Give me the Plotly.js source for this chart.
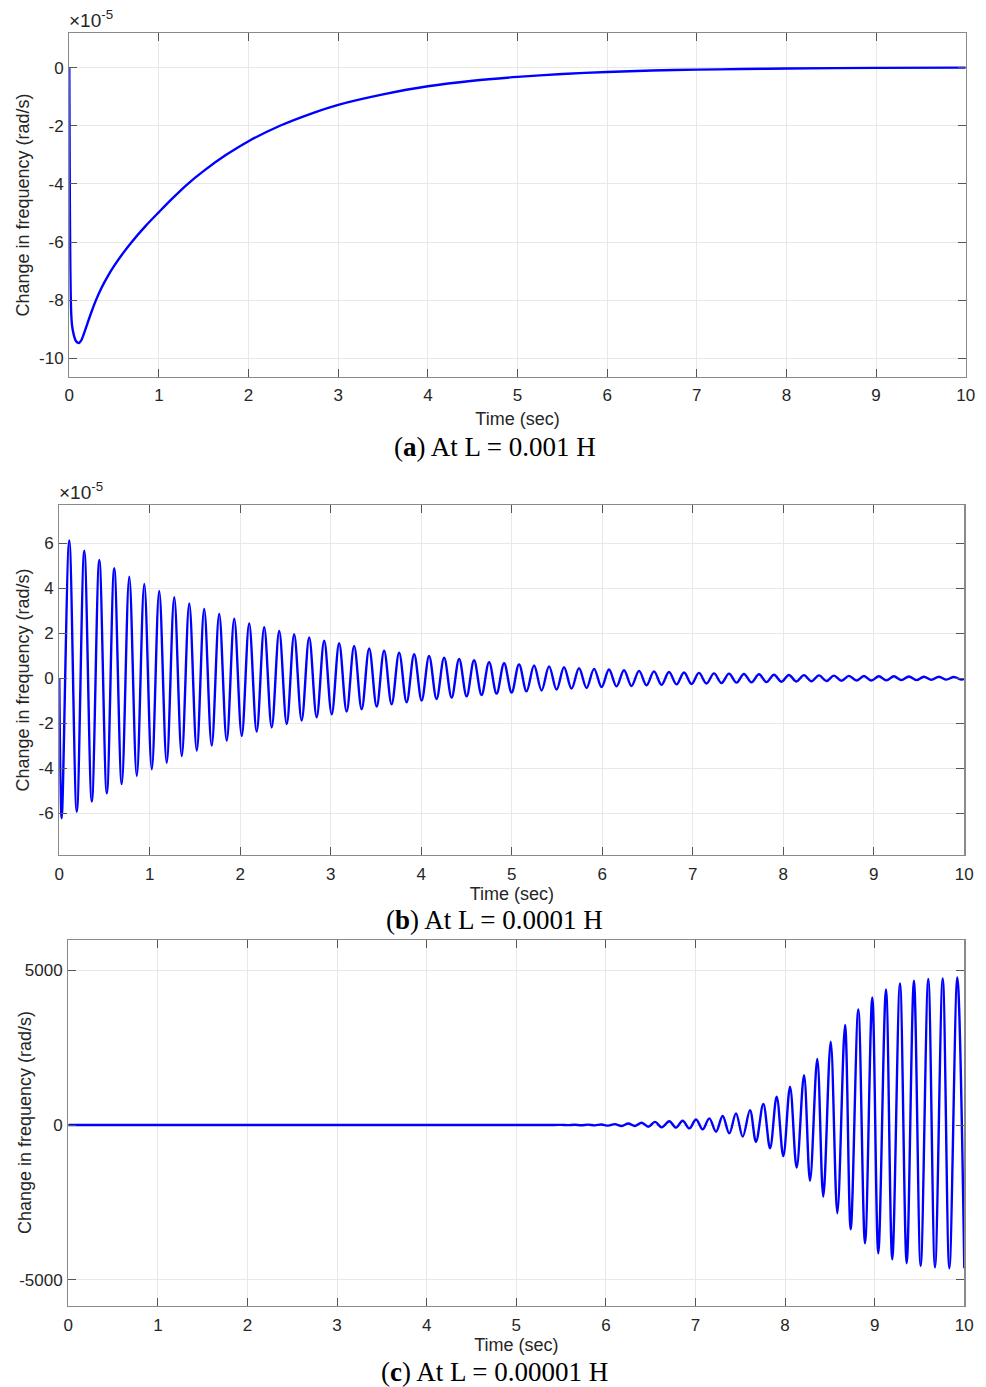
<!DOCTYPE html>
<html>
<head>
<meta charset="utf-8">
<script src="https://cdn.plot.ly/plotly-3.0.1.min.js"></script>
<style>
  html, body { margin: 0; padding: 0; background: #ffffff; }
  #chart { width: 986px; height: 1387px; }
</style>
</head>
<body>
<div id="chart"></div>
<script>
// ---------------- Data ----------------
// Panel (a): L = 0.001 H, values in units of 1e-5 rad/s
const aTime = [0, 0.003, 0.006, 0.01, 0.015, 0.022, 0.03, 0.04, 0.055, 0.07, 0.09, 0.108,
  0.13, 0.16, 0.2, 0.25, 0.3, 0.36, 0.43, 0.5, 0.6, 0.69, 0.85, 1.0, 1.15, 1.31, 1.5, 1.75,
  2.0, 2.35, 2.7, 3.0, 3.5, 4.0, 4.5, 5.0, 5.5, 6.0, 6.5, 7.0, 7.5, 8.0, 9.0, 10.0];
const aFreq = [0, -2.5, -4.6, -6.4, -7.7, -8.5, -8.85, -9.05, -9.25, -9.38, -9.45, -9.47,
  -9.40, -9.18, -8.82, -8.38, -7.98, -7.57, -7.17, -6.82, -6.38, -6.02, -5.45, -4.97, -4.5, -4.03, -3.55, -3.0,
  -2.53, -2.0, -1.58, -1.28, -0.92, -0.64, -0.45, -0.32, -0.22, -0.15, -0.1, -0.07, -0.05, -0.03, -0.01, 0];

// Panel (b): L = 0.0001 H, values in units of 1e-5 rad/s (successive troughs and peaks)
const bTime = [0, 0.026, 0.110, 0.193, 0.276, 0.359, 0.442, 0.525, 0.607, 0.690, 0.773,
  0.856, 0.939, 1.022, 1.104, 1.187, 1.270, 1.353, 1.436, 1.519, 1.601, 1.684, 1.767,
  1.850, 1.933, 2.016, 2.098, 2.181, 2.264, 2.347, 2.430, 2.513, 2.595, 2.678, 2.761,
  2.844, 2.927, 3.010, 3.092, 3.175, 3.258, 3.341, 3.424, 3.507, 3.589, 3.672, 3.755,
  3.838, 3.921, 4.004, 4.086, 4.169, 4.252, 4.335, 4.418, 4.501, 4.583, 4.666, 4.749,
  4.832, 4.915, 4.998, 5.080, 5.163, 5.246, 5.329, 5.412, 5.495, 5.577, 5.660, 5.743,
  5.826, 5.909, 5.992, 6.074, 6.157, 6.240, 6.323, 6.406, 6.489, 6.571, 6.654, 6.737,
  6.820, 6.903, 6.986, 7.068, 7.151, 7.234, 7.317, 7.400, 7.483, 7.565, 7.648, 7.731,
  7.814, 7.897, 7.980, 8.062, 8.145, 8.228, 8.311, 8.394, 8.477, 8.559, 8.642, 8.725,
  8.808, 8.891, 8.974, 9.056, 9.139, 9.222, 9.305, 9.388, 9.471, 9.553, 9.636, 9.719,
  9.802, 9.885, 9.968, 10.0];
const bFreq = [0, -6.22, 6.12, -5.93, 5.67, -5.48, 5.26, -5.11, 4.89, -4.70, 4.52,
  -4.34, 4.19, -4.04, 3.88, -3.75, 3.60, -3.45, 3.33, -3.21, 3.08, -2.99, 2.86,
  -2.77, 2.65, -2.56, 2.44, -2.37, 2.27, -2.18, 2.10, -2.03, 1.96, -1.88, 1.81,
  -1.73, 1.67, -1.60, 1.56, -1.48, 1.44, -1.38, 1.33, -1.26, 1.23, -1.16, 1.14,
  -1.07, 1.07, -0.99, 0.99, -0.92, 0.92, -0.86, 0.86, -0.80, 0.80, -0.74, 0.72,
  -0.68, 0.67, -0.63, 0.62, -0.58, 0.57, -0.54, 0.53, -0.50, 0.49, -0.46, 0.45,
  -0.43, 0.42, -0.39, 0.39, -0.36, 0.36, -0.34, 0.33, -0.31, 0.31, -0.29, 0.28,
  -0.27, 0.26, -0.25, 0.24, -0.23, 0.22, -0.21, 0.21, -0.19, 0.19, -0.18, 0.18,
  -0.17, 0.16, -0.15, 0.15, -0.14, 0.14, -0.13, 0.13, -0.12, 0.12, -0.11, 0.11,
  -0.10, 0.10, -0.10, 0.09, -0.09, 0.09, -0.08, 0.08, -0.08, 0.07, -0.07, 0.07,
  -0.06, 0.06, -0.06, -0.03];

// Panel (c): L = 0.00001 H, values in rad/s (successive peaks and troughs)
const cTime = [0, 5.42, 5.50, 5.575, 5.65, 5.725, 5.80, 5.875, 5.95, 6.025, 6.10, 6.176,
  6.25, 6.325, 6.40, 6.473, 6.548, 6.623, 6.708, 6.782, 6.857, 6.931, 7.006, 7.080,
  7.154, 7.229, 7.303, 7.377, 7.452, 7.527, 7.608, 7.675, 7.757, 7.832, 7.906, 7.980,
  8.055, 8.129, 8.211, 8.278, 8.359, 8.426, 8.509, 8.583, 8.669, 8.732, 8.817, 8.892,
  8.973, 9.040, 9.126, 9.196, 9.282, 9.357, 9.438, 9.513, 9.598, 9.673, 9.759, 9.833,
  9.922, 10.0];
const cFreq = [0, 0, 5, -5, 8, -8, 12, -12, 17, -20, 28, -30,
  50, -30, 75, -55, 100, -75, 120, -85, 140, -110, 180, -140,
  215, -215, 290, -270, 375, -375, 480, -540, 680, -750, 915, -1000,
  1240, -1375, 1610, -1795, 2130, -2310, 2690, -2850, 3225, -3365, 3730, -3815,
  4120, -4140, 4375, -4335, 4570, -4460, 4655, -4550, 4710, -4590, 4730, -4625,
  4760, -4620];

// Tick labels
const xTicks = [0, 1, 2, 3, 4, 5, 6, 7, 8, 9, 10];
const xTickText = ['0', '1', '2', '3', '4', '5', '6', '7', '8', '9', '10'];
const aYTicks = [-10, -8, -6, -4, -2, 0];
const aYTickText = ['-10', '-8', '-6', '-4', '-2', '0'];
const bYTicks = [-6, -4, -2, 0, 2, 4, 6];
const bYTickText = ['-6', '-4', '-2', '0', '2', '4', '6'];
const cYTicks = [-5000, 0, 5000];
const cYTickText = ['-5000', '0', '5000'];

const xTitle = 'Time (sec)';
const yTitle = 'Change in frequency (rad/s)';
const captions = ['(<b>a</b>) At L = 0.001 H', '(<b>b</b>) At L = 0.0001 H', '(<b>c</b>) At L = 0.00001 H'];

// ---------------- Styling / layout ----------------
const W = 986, H = 1387;
const px = v => v / W;
const py = v => 1 - v / H;

const lineStyle = { color: '#0000ff', width: 2.4 };
const fam = 'Liberation Sans, Arial, sans-serif';
const tickFont = { family: fam, size: 17, color: '#262626' };
const titleFont = { family: fam, size: 18, color: '#262626' };

function xAxis(left, right, anchor, titleStandoff) {
  return {
    domain: [px(left), px(right)], anchor: anchor, range: [0, 10],
    tickmode: 'array', tickvals: xTicks, ticktext: xTickText,
    ticks: 'inside', ticklen: 8, tickwidth: 1, tickcolor: '#555',
    showline: true, linecolor: '#8a8a8a', linewidth: 1.2, mirror: 'ticks',
    showgrid: true, gridcolor: '#e8e8e8', gridwidth: 1, zeroline: false,
    tickfont: tickFont, ticklabelstandoff: 3,
    title: { text: xTitle, font: titleFont, standoff: titleStandoff },
    fixedrange: true
  };
}
function yAxis(top, bottom, anchor, range, vals, texts, withTitle) {
  const ax = {
    domain: [py(bottom), py(top)], anchor: anchor, range: range,
    tickmode: 'array', tickvals: vals, ticktext: texts,
    ticks: 'inside', ticklen: 8, tickwidth: 1, tickcolor: '#555',
    showline: true, linecolor: '#8a8a8a', linewidth: 1.2, mirror: 'ticks',
    showgrid: true, gridcolor: '#e8e8e8', gridwidth: 1, zeroline: false,
    tickfont: tickFont, ticklabelstandoff: 1,
    fixedrange: true
  };
  if (withTitle) ax.title = { text: yTitle, font: titleFont, standoff: 4 };
  return ax;
}

const traces = [
  { x: aTime, y: aFreq, type: 'scatter', mode: 'lines', line: Object.assign({ shape: 'spline', smoothing: 0.8 }, lineStyle), xaxis: 'x', yaxis: 'y', hoverinfo: 'skip' },
  { x: bTime, y: bFreq, type: 'scatter', mode: 'lines', line: Object.assign({ shape: 'spline', smoothing: 1 }, lineStyle), xaxis: 'x2', yaxis: 'y2', hoverinfo: 'skip' },
  { x: cTime, y: cFreq, type: 'scatter', mode: 'lines', line: Object.assign({ shape: 'spline', smoothing: 1 }, lineStyle), xaxis: 'x3', yaxis: 'y3', hoverinfo: 'skip' }
];

const captionFont = { family: 'Liberation Serif, Times New Roman, serif', size: 27, color: '#000' };
const expFont = { family: fam, size: 19, color: '#262626' };
const annotations = [
  { xref: 'paper', yref: 'paper', x: px(495), y: py(447), text: captions[0], showarrow: false, font: captionFont, xanchor: 'center', yanchor: 'middle' },
  { xref: 'paper', yref: 'paper', x: px(495), y: py(920), text: captions[1], showarrow: false, font: captionFont, xanchor: 'center', yanchor: 'middle' },
  { xref: 'paper', yref: 'paper', x: px(495), y: py(1372), text: captions[2], showarrow: false, font: captionFont, xanchor: 'center', yanchor: 'middle' },
  { xref: 'paper', yref: 'paper', x: px(67), y: py(33), text: '\u00d710<sup>-5</sup>', showarrow: false, font: expFont, xanchor: 'left', yanchor: 'bottom' },
  { xref: 'paper', yref: 'paper', x: px(57), y: py(505), text: '\u00d710<sup>-5</sup>', showarrow: false, font: expFont, xanchor: 'left', yanchor: 'bottom' },
  { xref: 'paper', yref: 'paper', x: px(25), y: py(1123), text: yTitle, textangle: -90, showarrow: false, font: titleFont, xanchor: 'center', yanchor: 'middle' }
];

const layout = {
  width: W, height: H,
  margin: { l: 0, r: 0, t: 0, b: 0 },
  paper_bgcolor: '#ffffff', plot_bgcolor: '#ffffff',
  showlegend: false,
  font: tickFont,
  xaxis: xAxis(69.3, 965.7, 'y', 8),
  yaxis: yAxis(33.3, 376.7, 'x', [-10.63, 1.18], aYTicks, aYTickText, true),
  xaxis2: xAxis(59.3, 964.3, 'y2', 3),
  yaxis2: yAxis(505, 855, 'x2', [-7.85, 7.7], bYTicks, bYTickText, true),
  xaxis3: xAxis(68.3, 964.3, 'y3', 3),
  yaxis3: yAxis(940, 1306, 'x3', [-5840, 5970], cYTicks, cYTickText, false),
  annotations: annotations
};

Plotly.newPlot('chart', traces, layout, { displayModeBar: false, staticPlot: true });
</script>
</body>
</html>
